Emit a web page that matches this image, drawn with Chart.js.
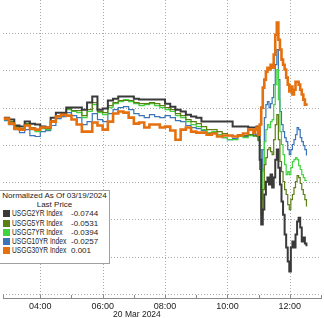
<!DOCTYPE html>
<html>
<head>
<meta charset="utf-8">
<script src="https://cdn.jsdelivr.net/npm/chart.js@4"></script>
<style>
  html, body { margin: 0; padding: 0; background: #fff; }
  #wrap { position: relative; width: 324px; height: 318px; overflow: hidden; font-family: "Liberation Sans", Arial, sans-serif; }
  #chart { position: absolute; left: 0; top: 0; }
  #legend { position: absolute; left: -1px; top: 190px; width: 109px; height: 72px; background: #fff;
            border: 1px solid #a0a0a0; font-size: 8px; color: #222; line-height: 9.2px; }
  #legend .hd { text-align: center; white-space: nowrap; }
  #legend .row { position: relative; height: 9.2px; white-space: nowrap; }
  #legend .sw { position: absolute; left: 3px; top: 1px; width: 7px; height: 7px; }
  #legend .lb { position: absolute; left: 12px; top: 0; transform: scaleX(0.8); transform-origin: 0 0; font-size: 8.3px; }
  #legend .vl { position: absolute; top: 0; left: 71px; }
  #dateLbl { position: absolute; top: 309px; font-size: 8.5px; color: #222; white-space: nowrap; transform: translateX(-50%); }
</style>
</head>
<body>
<div id="wrap">
  <canvas id="chart" width="324" height="318"></canvas>
  <div id="legend"></div>
  <div id="dateLbl"></div>
</div>
<script>
// ===== Data =====
const TIMES = [
  "02:50","03:00","03:10","03:20","03:30","03:40","03:50","04:00","04:10","04:20",
  "04:30","04:40","04:50","05:00","05:10","05:20","05:30","05:40","05:50","06:00",
  "06:10","06:20","06:30","06:40","06:50","07:00","07:10","07:20","07:30","07:40",
  "07:50","08:00","08:10","08:20","08:30","08:40","08:50","09:00","09:10","09:20",
  "09:30","09:40","09:50","10:00","10:10","10:20","10:30","10:40","10:50","10:53",
  "10:56","10:59","11:02","11:05","11:08","11:11","11:14","11:17","11:20","11:23",
  "11:26","11:29","11:32","11:35","11:38","11:41","11:44","11:47","11:50","11:53",
  "11:56","11:59","12:02","12:05","12:08","12:11","12:14","12:17","12:20","12:23",
  "12:26","12:29","12:32"
];

const USGG2YR = [
  -0.0054,-0.0064,-0.0096,-0.0102,-0.0075,-0.0086,-0.0091,-0.0102,-0.0107,-0.0054,
  -0.0027,-0.0027,0,0,0,-0.0011,0.0027,0.0059,-0.0011,-0.0005,
  0.0038,0.0048,0.0059,0.0059,0.0059,0.0048,0.0043,0.0043,0.0043,0.0043,
  0.0043,0.0021,0.0005,-0.0011,-0.0021,-0.0038,-0.0048,-0.0054,-0.0075,-0.0075,
  -0.0075,-0.0075,-0.0075,-0.0075,-0.0102,-0.0102,-0.0102,-0.0107,-0.0107,-0.0107,
  -0.0102,-0.0118,-0.0279,-0.0627,-0.0547,-0.0466,-0.0397,-0.0375,-0.0413,-0.0359,
  -0.0429,-0.0375,-0.0279,-0.0225,-0.0322,-0.0413,-0.0504,-0.0574,-0.0681,-0.0750,
  -0.0825,-0.0879,-0.0750,-0.0718,-0.0750,-0.0681,-0.0611,-0.0590,-0.0643,-0.0718,
  -0.0697,-0.0729,-0.0744
];
const USGG5YR = [
  -0.0059,-0.0075,-0.0102,-0.0113,-0.0086,-0.0107,-0.0118,-0.0107,-0.0113,-0.0070,
  -0.0043,-0.0032,-0.0005,-0.0016,-0.0016,-0.0043,-0.0011,0.0027,-0.0021,-0.0027,
  0.0011,0.0027,0.0038,0.0038,0.0038,0.0027,0.0021,0.0021,0.0027,0.0021,
  0.0011,0,-0.0011,-0.0032,-0.0043,-0.0064,-0.0075,-0.0086,-0.0102,-0.0118,
  -0.0118,-0.0129,-0.0139,-0.0150,-0.0155,-0.0145,-0.0150,-0.0145,-0.0150,-0.0150,
  -0.0155,-0.0177,-0.0332,-0.0574,-0.0440,-0.0306,-0.0268,-0.0225,-0.0214,-0.0236,
  -0.0252,-0.0172,-0.0091,-0.0038,-0.0172,-0.0289,-0.0343,-0.0397,-0.0440,-0.0466,
  -0.0520,-0.0547,-0.0493,-0.0466,-0.0429,-0.0397,-0.0364,-0.0375,-0.0407,-0.0440,
  -0.0466,-0.0493,-0.0531
];
const USGG7YR = [
  -0.0064,-0.0080,-0.0107,-0.0118,-0.0091,-0.0118,-0.0129,-0.0113,-0.0118,-0.0080,
  -0.0048,-0.0038,-0.0011,-0.0021,-0.0027,-0.0054,-0.0021,0.0016,-0.0027,-0.0038,
  0,0.0021,0.0032,0.0043,0.0032,0.0021,0.0011,0.0016,0.0021,0.0011,
  0,-0.0011,-0.0021,-0.0043,-0.0054,-0.0075,-0.0091,-0.0102,-0.0118,-0.0134,
  -0.0129,-0.0145,-0.0161,-0.0172,-0.0172,-0.0155,-0.0161,-0.0150,-0.0155,-0.0150,
  -0.0155,-0.0172,-0.0279,-0.0493,-0.0332,-0.0182,-0.0118,-0.0091,-0.0107,-0.0075,
  -0.0064,0.0016,0.0123,0.0204,0.0043,-0.0129,-0.0198,-0.0252,-0.0306,-0.0359,
  -0.0343,-0.0359,-0.0322,-0.0289,-0.0279,-0.0268,-0.0279,-0.0311,-0.0332,-0.0359,
  -0.0375,-0.0391,-0.0394
];
const USGG10YR = [
  -0.0070,-0.0091,-0.0118,-0.0134,-0.0118,-0.0150,-0.0155,-0.0129,-0.0123,-0.0096,
  -0.0059,-0.0048,-0.0027,-0.0043,-0.0054,-0.0091,-0.0075,-0.0032,-0.0064,-0.0075,
  -0.0032,-0.0011,0,0.0005,-0.0011,-0.0032,-0.0043,-0.0054,-0.0038,-0.0048,
  -0.0054,-0.0043,-0.0054,-0.0070,-0.0075,-0.0096,-0.0107,-0.0113,-0.0123,-0.0139,
  -0.0134,-0.0145,-0.0161,-0.0172,-0.0166,-0.0155,-0.0155,-0.0145,-0.0150,-0.0145,
  -0.0150,-0.0172,-0.0225,-0.0343,-0.0225,-0.0054,0.0016,0.0032,0,0.0021,
  0.0054,0.0123,0.0230,0.0311,0.0150,-0.0021,-0.0091,-0.0129,-0.0161,-0.0182,
  -0.0225,-0.0252,-0.0225,-0.0198,-0.0172,-0.0145,-0.0107,-0.0118,-0.0161,-0.0182,
  -0.0204,-0.0225,-0.0257
];
const USGG30YR = [
  -0.0059,-0.0086,-0.0113,-0.0118,-0.0096,-0.0113,-0.0118,-0.0107,-0.0107,-0.0075,
  -0.0048,-0.0038,-0.0043,-0.0064,-0.0091,-0.0129,-0.0129,-0.0080,-0.0096,-0.0118,
  -0.0075,-0.0032,-0.0021,-0.0027,-0.0054,-0.0086,-0.0080,-0.0107,-0.0091,-0.0091,
  -0.0107,-0.0102,-0.0123,-0.0172,-0.0118,-0.0107,-0.0129,-0.0134,-0.0134,-0.0145,
  -0.0139,-0.0155,-0.0150,-0.0150,-0.0155,-0.0150,-0.0139,-0.0118,-0.0134,-0.0118,
  -0.0107,-0.0145,-0.0091,0,0.0107,0.0150,0.0193,0.0214,0.0204,0.0230,
  0.0214,0.0284,0.0391,0.0456,0.0364,0.0311,0.0257,0.0230,0.0204,0.0161,
  0.0123,0.0086,0.0113,0.0070,0.0096,0.0139,0.0139,0.0123,0.0096,0.0070,
  0.0043,0.0016,0.0010
];

const SERIES_NAMES  = ["USGG2YR Index","USGG5YR Index","USGG7YR Index","USGG10YR Index","USGG30YR Index"];
const SERIES_LAST   = ["-0.0744","-0.0531","-0.0394","-0.0257","0.001"];
const SERIES_COLORS = ["#3a3a3a","#5b7f14","#3fd43f","#3b74b8","#e5700f"];
const SERIES_WIDTHS = [2, 1.2, 1.2, 1.2, 2.6];
const SERIES_ORDER  = [1, 2, 3, 4, 0];   // lower = drawn on top
const LEGEND_TITLE  = ["Normalized As Of 03/19/2024", "Last Price"];
const DATE_LABEL    = "20 Mar 2024";

// ===== Helpers =====
const toHours = (t) => { const [h, m] = t.split(':').map(Number); return h + m / 60; };
const pad2 = (n) => String(n).padStart(2, '0');
const ALL_SERIES = [USGG2YR, USGG5YR, USGG7YR, USGG10YR, USGG30YR];

const datasets = ALL_SERIES.map((vals, i) => ({
  label: SERIES_NAMES[i],
  data: vals.map((v, k) => ({ x: toHours(TIMES[k]), y: v })),
  borderColor: SERIES_COLORS[i],
  borderWidth: SERIES_WIDTHS[i],
  pointRadius: 0,
  stepped: true,
  order: SERIES_ORDER[i]
}));

// dotted grid (even hours + y ticks) and little hour ticks on the axis
const dottedGrid = {
  id: 'dottedGrid',
  beforeDatasetsDraw(chart) {
    const { ctx, chartArea: a, scales: { x, y } } = chart;
    ctx.save();
    ctx.strokeStyle = '#a9a9a9'; ctx.lineWidth = 1; ctx.setLineDash([1, 2]);
    y.ticks.forEach(t => {
      const py = Math.round(y.getPixelForValue(t.value)) + 0.5;
      ctx.beginPath(); ctx.moveTo(a.left, py); ctx.lineTo(a.right, py); ctx.stroke();
    });
    x.ticks.filter(t => t.value % 2 === 0).forEach(t => {
      const px = Math.round(x.getPixelForValue(t.value)) + 0.5;
      ctx.beginPath(); ctx.moveTo(px, a.top); ctx.lineTo(px, a.bottom); ctx.stroke();
    });
    ctx.setLineDash([]); ctx.strokeStyle = '#8a8a8a';
    x.ticks.forEach(t => {
      const px = Math.round(x.getPixelForValue(t.value)) + 0.5;
      ctx.beginPath(); ctx.moveTo(px, a.bottom - 3); ctx.lineTo(px, a.bottom); ctx.stroke();
    });
    ctx.restore();
  }
};

const chart = new Chart(document.getElementById('chart'), {
  type: 'line',
  data: { datasets },
  options: {
    responsive: false,
    animation: false,
    layout: { padding: 0 },
    plugins: { legend: { display: false }, tooltip: { enabled: false } },
    scales: {
      x: {
        type: 'linear', min: 2.805, max: 13.0,
        grid: { display: false, drawTicks: false },
        border: { display: true, color: '#8a8a8a', width: 1 },
        ticks: {
          stepSize: 1, autoSkip: false, maxRotation: 0, padding: 3, color: '#222',
          font: { family: '"Liberation Sans", Arial, sans-serif', size: 9 },
          callback: (v) => (v % 2 === 0 ? pad2(v) + ':00' : '')
        },
        afterFit: (s) => { s.height = 20; }
      },
      y: {
        min: -0.1021, max: 0.0577,
        grid: { display: false, drawTicks: false },
        border: { display: false },
        ticks: { display: false, stepSize: 0.02, includeBounds: false },
        afterFit: (s) => { s.width = 0; }
      }
    }
  },
  plugins: [dottedGrid]
});

// ===== Legend box =====
const lg = document.getElementById('legend');
LEGEND_TITLE.forEach(t => { const d = document.createElement('div'); d.className = 'hd'; d.textContent = t; lg.appendChild(d); });
SERIES_NAMES.forEach((n, i) => {
  const r = document.createElement('div'); r.className = 'row';
  r.innerHTML = `<span class="sw" style="background:${SERIES_COLORS[i]}"></span>` +
                `<span class="lb">${n}</span><span class="vl">${SERIES_LAST[i]}</span>`;
  lg.appendChild(r);
});

// date label under 07:00
const dl = document.getElementById('dateLbl');
dl.textContent = DATE_LABEL;
dl.style.left = chart.scales.x.getPixelForValue(7.1) + 'px';
</script>
</body>
</html>
